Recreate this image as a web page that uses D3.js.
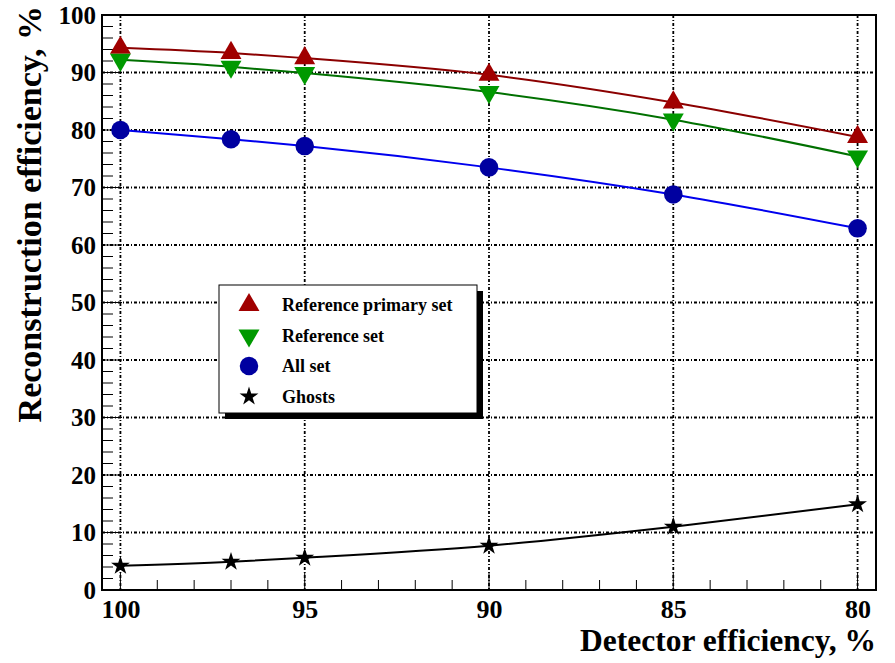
<!DOCTYPE html>
<html>
<head>
<meta charset="utf-8">
<script src="https://cdn.jsdelivr.net/npm/d3@7"></script>
<style>
  body { margin: 0; background: #fff; }
  text { font-family: "Liberation Serif", "Times New Roman", serif; font-weight: bold; }
</style>
</head>
<body>
<script>
// detector efficiency, %
const detEff = [100, 97, 95, 90, 85, 80];
const refPrimary = [94.3, 93.4, 92.5, 89.6, 84.8, 78.8];
const refSet = [92.2, 91.0, 89.9, 86.6, 81.8, 75.4];
const allSet = [80.0, 78.4, 77.2, 73.5, 68.8, 62.9];
const ghosts = [4.2, 4.9, 5.6, 7.7, 11.0, 14.9];
const xTicks = [100, 95, 90, 85, 80];
const yTicks = [0, 10, 20, 30, 40, 50, 60, 70, 80, 90, 100];

const width = 895, height = 663;
const margin = {top: 15, right: 19, bottom: 73, left: 102};
const w = width - margin.left - margin.right,
  h = height - margin.top - margin.bottom;

const x = d3.scaleLinear().domain([100.5, 79.5]).range([0, w]);
const y = d3.scaleLinear().domain([0, 100]).range([h, 0]);

const svg = d3.select("body").append("svg")
  .attr("width", width)
  .attr("height", height);

const g = svg.append("g")
  .attr("transform", "translate(" + margin.left + "," + margin.top + ")");

// grid
const dash = "3,2,1,2";
g.selectAll(".vgrid").data(xTicks).enter().append("line")
  .attr("x1", d => x(d)).attr("x2", d => x(d))
  .attr("y1", 0).attr("y2", h)
  .attr("stroke", "#000").attr("stroke-width", 1.8)
  .attr("stroke-dasharray", dash);
g.selectAll(".hgrid").data(yTicks.slice(1, -1)).enter().append("line")
  .attr("x1", 0).attr("x2", w)
  .attr("y1", d => y(d)).attr("y2", d => y(d))
  .attr("stroke", "#000").attr("stroke-width", 1.8)
  .attr("stroke-dasharray", dash);

// minor ticks
g.selectAll(".xminor").data(d3.range(80, 101, 1)).enter().append("line")
  .attr("x1", d => x(d)).attr("x2", d => x(d))
  .attr("y1", h).attr("y2", d => h - (d % 5 === 0 ? 18 : 10))
  .attr("stroke", "#000").attr("stroke-width", 1);
g.selectAll(".yminor").data(d3.range(0, 101, 2)).enter().append("line")
  .attr("x1", 0).attr("x2", d => d % 10 === 0 ? 20 : 11)
  .attr("y1", d => y(d)).attr("y2", d => y(d))
  .attr("stroke", "#000").attr("stroke-width", 1);

// axes labels
const xAxis = d3.axisBottom(x).tickValues(xTicks).tickSize(0).tickPadding(10);
g.append("g").attr("transform", "translate(0," + h + ")").call(xAxis)
  .call(s => s.select(".domain").remove())
  .selectAll("text").attr("font-size", 26).attr("fill", "#000")
  .attr("font-family", "Liberation Serif, serif").attr("font-weight", "bold");

const yAxis = d3.axisLeft(y).tickValues(yTicks).tickSize(0).tickPadding(6);
g.append("g").call(yAxis)
  .call(s => s.select(".domain").remove())
  .selectAll("text").attr("font-size", 25).attr("fill", "#000")
  .attr("font-family", "Liberation Serif, serif").attr("font-weight", "bold");

// frame
g.append("rect").attr("width", w).attr("height", h)
  .attr("fill", "none").attr("stroke", "#000").attr("stroke-width", 2);

const series = [
  {name: "Reference primary set", values: refPrimary, line: "#8b0000", fill: "#a00000", shape: d3.symbolTriangle, size: 190},
  {name: "Reference set", values: refSet, line: "#007000", fill: "#009900", shape: d3.symbolTriangle, size: 190, flip: true},
  {name: "All set", values: allSet, line: "#0000ee", fill: "#0000a0", shape: d3.symbolCircle, size: 270},
  {name: "Ghosts", values: ghosts, line: "#000", fill: "#000", shape: d3.symbolStar, size: 110}
];

const line = d3.line()
  .x((d, i) => x(detEff[i]))
  .y(d => y(d))
  .curve(d3.curveMonotoneX);

series.forEach(s => {
  g.append("path").datum(s.values)
    .attr("d", line)
    .attr("fill", "none").attr("stroke", s.line).attr("stroke-width", 2);
  g.selectAll(null).data(s.values).enter().append("path")
    .attr("d", d3.symbol().type(s.shape).size(s.size))
    .attr("transform", (d, i) => "translate(" + x(detEff[i]) + "," + y(d) + ")" + (s.flip ? " rotate(180)" : ""))
    .attr("fill", s.fill);
});

// legend
const lg = svg.append("g").attr("transform", "translate(219,285)");
lg.append("rect").attr("x", 6).attr("y", 6).attr("width", 258).attr("height", 128).attr("fill", "#000");
lg.append("rect").attr("width", 258).attr("height", 128)
  .attr("fill", "#fff").attr("stroke", "#000").attr("stroke-width", 1);
series.forEach((s, i) => {
  const ly = 20 + i * 30.5;
  lg.append("path")
    .attr("d", d3.symbol().type(s.shape).size(s.size))
    .attr("transform", "translate(30," + ly + ")" + (s.flip ? " rotate(180)" : ""))
    .attr("fill", s.fill);
  lg.append("text").attr("x", 63).attr("y", ly + 6)
    .attr("font-size", 18).text(s.name);
});

// titles
svg.append("text").attr("x", 876).attr("y", 651)
  .attr("text-anchor", "end").attr("font-size", 31.5)
  .text("Detector efficiency, %");
svg.append("text")
  .attr("transform", "translate(41,6) rotate(-90)")
  .attr("text-anchor", "end").attr("font-size", 34)
  .text("Reconstruction efficiency, %");
</script>
</body>
</html>
